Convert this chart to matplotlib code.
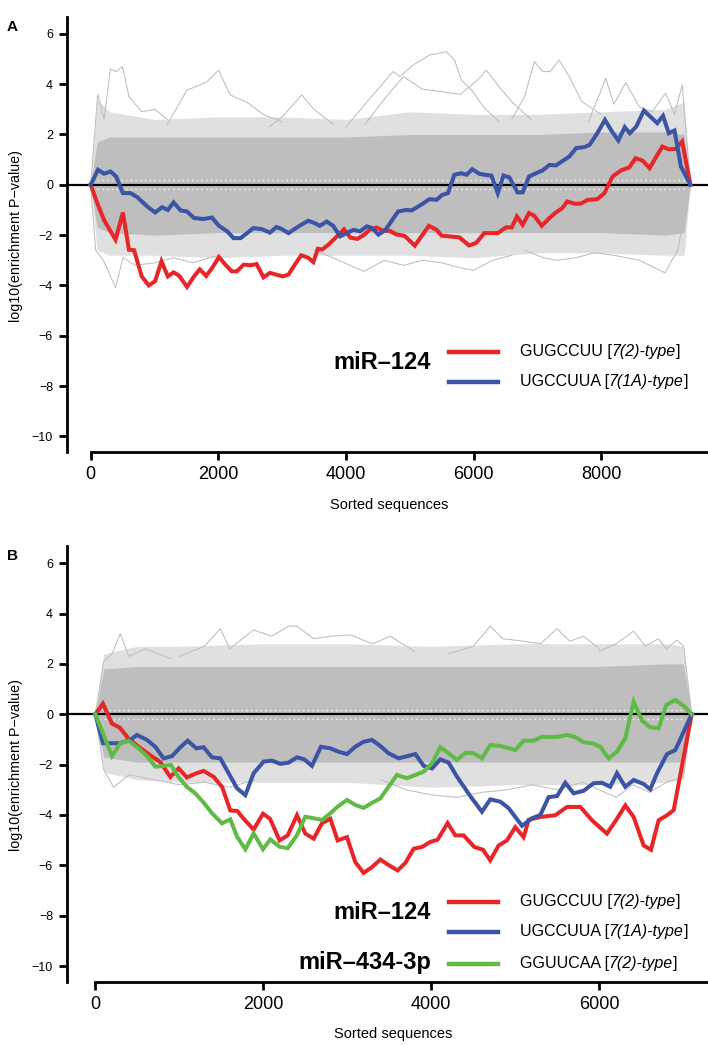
import matplotlib
matplotlib.use("Agg")
import matplotlib.pyplot as plt
from matplotlib.offsetbox import TextArea, HPacker, AnnotationBbox

plt.rcParams["font.family"] = ["Liberation Sans", "DejaVu Sans"]

RED = "#E8262A"; BLUE = "#3B54A5"; GREEN = "#5FBB46"
GRAY = "#BEBEBE"; LIGHT = "#E0E0E0"

# ---------------- panel A data (miR-124, ~9400 sorted sequences)
a_red_x = [0, 104, 208, 312, 390, 505, 600, 680, 800, 910, 1010, 1110, 1210, 1300, 1390, 1510, 1620, 1710,
           1810, 1900, 2010, 2110, 2210, 2290, 2400, 2500, 2600, 2710, 2810, 2910, 3010, 3100, 3200, 3300,
           3410, 3490, 3560, 3630, 3730, 3840, 3970, 4070, 4180, 4280, 4380, 4480, 4590, 4690, 4790, 4920,
           5080, 5300, 5420, 5500, 5780, 5930, 6040, 6170, 6380, 6510, 6600, 6680, 6770, 6870, 6950, 7070,
           7190, 7290, 7390, 7470, 7580, 7680, 7790, 7940, 8050, 8180, 8310, 8440, 8540, 8650, 8760, 8850,
           8960, 9060, 9170, 9270, 9400]
a_red_y = [0, -0.73, -1.39, -1.85, -2.18, -1.1, -2.58, -2.6, -3.64, -4.0, -3.83, -3.04, -3.64, -3.48, -3.62,
           -4.06, -3.64, -3.36, -3.62, -3.32, -2.87, -3.17, -3.44, -3.44, -3.17, -3.2, -3.15, -3.68, -3.5,
           -3.57, -3.64, -3.57, -3.17, -2.8, -2.9, -3.07, -2.54, -2.57, -2.37, -2.1, -1.77, -2.1, -2.15, -2.0,
           -1.77, -1.7, -1.83, -1.83, -1.97, -2.03, -2.42, -1.63, -1.79, -2.02, -2.09, -2.41, -2.31, -1.92,
           -1.92, -1.69, -1.69, -1.26, -1.59, -1.12, -1.23, -1.63, -1.32, -1.1, -0.93, -0.66, -0.75, -0.75,
           -0.6, -0.57, -0.33, 0.33, 0.57, 0.69, 1.06, 0.96, 0.66, 1.06, 1.52, 1.41, 1.43, 1.72, 0]
a_blue_x = [0, 115, 210, 310, 400, 505, 625, 730, 885, 1010, 1120, 1210, 1300, 1410, 1510, 1620, 1770, 1900,
            2010, 2140, 2240, 2350, 2450, 2550, 2680, 2810, 2910, 2990, 3100, 3200, 3300, 3410, 3510, 3590,
            3700, 3800, 3910, 4010, 4120, 4220, 4330, 4410, 4510, 4620, 4720, 4820, 4950, 5030, 5180, 5310,
            5420, 5510, 5600, 5700, 5810, 5890, 5980, 6090, 6170, 6280, 6380, 6470, 6560, 6690, 6770, 6870,
            6980, 7080, 7190, 7290, 7400, 7500, 7610, 7740, 7820, 7940, 8060, 8170, 8270, 8370, 8450, 8550,
            8670, 8780, 8880, 8970, 9060, 9150, 9250, 9400]
a_blue_y = [0, 0.6, 0.44, 0.53, 0.33, -0.33, -0.33, -0.49, -0.86, -1.1, -0.89, -1.0, -0.7, -1.02, -1.06,
            -1.32, -1.36, -1.3, -1.63, -1.85, -2.12, -2.12, -1.92, -1.72, -1.76, -1.9, -1.68, -1.75, -1.92,
            -1.75, -1.59, -1.43, -1.52, -1.63, -1.46, -1.63, -2.05, -1.92, -1.79, -1.85, -1.65, -1.72, -1.98,
            -1.79, -1.42, -1.06, -1.0, -1.02, -0.79, -0.57, -0.6, -0.4, -0.33, 0.4, 0.46, 0.4, 0.62, 0.44, 0.4,
            0.37, -0.33, 0.37, 0.3, -0.3, -0.3, 0.33, 0.46, 0.57, 0.79, 0.77, 0.95, 1.12, 1.46, 1.5, 1.59, 2.05,
            2.58, 2.12, 1.76, 2.29, 2.05, 2.31, 2.95, 2.69, 2.45, 2.74, 2.05, 2.16, 0.73, 0]

# background motifs: dense core, sparse fringe and a few outlying traces
a_env_x = [0, 100, 300, 1000, 2000, 3000, 4000, 5000, 6000, 7000, 8000, 9000, 9300, 9400]
a_core_hi = [0, 1.7, 1.9, 1.9, 1.9, 1.9, 1.9, 2.0, 2.0, 2.0, 2.1, 2.1, 2.0, 0]
a_core_lo = [0, -1.7, -1.9, -2.0, -1.9, -1.9, -1.9, -1.9, -1.9, -1.9, -1.9, -2.0, -1.9, 0]
a_fringe_hi = [0, 3.4, 2.9, 2.6, 2.7, 2.7, 2.6, 2.9, 2.8, 2.8, 2.9, 3.0, 3.3, 0]
a_fringe_lo = [0, -2.6, -2.8, -2.8, -2.9, -2.8, -2.8, -2.8, -2.9, -2.7, -2.7, -2.8, -2.8, 0]
a_outliers = [
    ([0, 110, 210, 310, 400, 500, 600, 800, 1000, 1200], [0, 3.6, 2.6, 4.6, 4.5, 4.7, 3.5, 2.9, 3.0, 2.6]),
    ([1200, 1510, 1650, 1823, 2005, 2187, 2469, 2700, 3000], [2.4, 3.77, 3.9, 4.1, 4.56, 3.57, 3.25, 2.8, 2.5]),
    ([2800, 3000, 3307, 3500, 3800], [2.3, 2.7, 3.57, 3.0, 2.4]),
    ([4000, 4432, 4740, 4844, 5052, 5312, 5573, 5703, 5807, 5990, 6146, 6400],
     [2.3, 3.6, 4.5, 4.3, 4.76, 5.16, 5.29, 4.96, 4.17, 3.71, 3.12, 2.5]),
    ([4300, 4600, 4900, 5200, 5500, 5800, 6094, 6198, 6400, 6600, 6900],
     [2.4, 3.4, 4.3, 3.8, 3.7, 3.6, 4.24, 4.56, 3.9, 3.3, 2.6]),
    ([6600, 6800, 6953, 7083, 7200, 7344, 7500, 7700, 8000], [2.6, 3.5, 4.9, 4.5, 4.5, 4.96, 4.3, 3.3, 2.8]),
    ([7800, 8073, 8200, 8385, 8600, 8800, 9010, 9150, 9271, 9400], [2.5, 4.23, 3.2, 4.06, 3.1, 2.9, 3.64, 2.8, 3.97, 0]),
    ([0, 78, 200, 390, 505, 700, 1000, 1300, 1600, 2000], [0, -2.6, -3.0, -4.1, -2.9, -3.2, -3.1, -2.9, -3.1, -2.8]),
    ([3500, 3800, 4281, 4600, 4900, 5200, 5500, 5800, 6000, 6300, 6600],
     [-2.6, -2.9, -3.44, -3.0, -3.2, -3.0, -3.1, -3.3, -3.4, -3.0, -2.8]),
    ([6800, 7100, 7300, 7600, 7900, 8200, 8600, 9000, 9200, 9400], [-2.6, -2.9, -3.0, -2.9, -2.7, -2.8, -3.0, -3.5, -2.6, 0]),
]

# ---------------- panel B data (~7100 sorted sequences)
b_red_x = [0, 91, 198, 290, 397, 516, 655, 774, 893, 992, 1090, 1190, 1290, 1410, 1510, 1607, 1690, 1766,
           1885, 1996, 2080, 2194, 2290, 2401, 2500, 2600, 2700, 2798, 2885, 2996, 3095, 3194, 3294, 3393,
           3492, 3599, 3690, 3790, 3889, 3988, 4075, 4194, 4286, 4385, 4512, 4615, 4702, 4802, 4901, 5000,
           5099, 5159, 5298, 5476, 5615, 5774, 5913, 6091, 6210, 6310, 6409, 6528, 6615, 6706, 6806, 6885, 7100]
b_red_y = [0, 0.42, -0.37, -0.53, -0.97, -1.29, -1.63, -1.9, -2.49, -2.15, -2.51, -2.36, -2.25, -2.49, -2.89,
           -3.82, -3.84, -4.15, -4.58, -3.95, -4.15, -5.01, -4.81, -4.01, -4.74, -4.94, -4.32, -4.15, -5.01,
           -4.88, -5.87, -6.3, -6.07, -5.77, -5.99, -6.2, -5.91, -5.34, -5.27, -5.07, -4.98, -4.32, -4.81,
           -4.81, -5.27, -5.38, -5.8, -5.21, -5.01, -4.48, -4.88, -4.19, -4.08, -4.01, -3.68, -3.68, -4.21,
           -4.74, -4.15, -3.62, -4.08, -5.21, -5.38, -4.21, -4.01, -3.81, 0]
b_blue_x = [0, 91, 290, 417, 496, 615, 714, 813, 913, 1012, 1099, 1202, 1290, 1389, 1488, 1587, 1687, 1786,
            1885, 2004, 2103, 2202, 2302, 2401, 2488, 2579, 2686, 2797, 2897, 2996, 3095, 3194, 3294, 3393,
            3492, 3611, 3810, 3909, 4008, 4107, 4206, 4306, 4464, 4603, 4702, 4821, 4921, 5080, 5198, 5298,
            5397, 5496, 5595, 5694, 5813, 5932, 6030, 6130, 6210, 6309, 6409, 6528, 6607, 6687, 6806, 6905, 7100]
b_blue_y = [0, -1.15, -1.15, -1.02, -0.82, -1.02, -1.29, -1.75, -1.66, -1.31, -1.05, -1.35, -1.31, -1.71,
            -1.75, -2.34, -2.94, -3.21, -2.34, -1.88, -1.84, -1.97, -1.92, -1.71, -1.79, -2.05, -1.29, -1.35,
            -1.49, -1.58, -1.29, -1.09, -1.02, -1.26, -1.55, -1.75, -1.58, -2.05, -2.15, -1.79, -1.92, -2.48,
            -3.25, -3.87, -3.38, -3.47, -3.73, -4.43, -4.13, -4.0, -3.29, -3.25, -2.72, -3.14, -3.04, -2.74,
            -2.72, -2.88, -2.34, -2.88, -2.61, -2.77, -2.98, -2.34, -1.58, -1.42, 0]
b_green_x = [0, 91, 198, 298, 397, 516, 615, 714, 813, 900, 992, 1090, 1190, 1290, 1389, 1508, 1607, 1687,
             1786, 1885, 1996, 2083, 2194, 2290, 2401, 2500, 2600, 2700, 2798, 2885, 2996, 3095, 3194, 3294,
             3393, 3591, 3710, 3909, 4008, 4107, 4206, 4306, 4405, 4504, 4603, 4702, 4821, 5000, 5099, 5218,
             5318, 5417, 5516, 5615, 5714, 5813, 5913, 6012, 6111, 6210, 6310, 6409, 6508, 6607, 6706, 6797,
             6905, 7004, 7100]
b_green_y = [0, -0.75, -1.66, -1.15, -1.05, -1.35, -1.66, -2.08, -2.05, -2.01, -2.5, -2.88, -3.14, -3.51,
             -3.93, -4.33, -4.17, -4.86, -5.36, -4.73, -5.36, -4.97, -5.26, -5.32, -4.8, -4.07, -4.13, -4.2,
             -3.93, -3.67, -3.4, -3.6, -3.72, -3.52, -3.34, -2.41, -2.54, -2.28, -1.95, -1.31, -1.55, -1.82,
             -1.53, -1.55, -1.75, -1.22, -1.26, -1.42, -1.05, -1.05, -0.89, -0.91, -0.89, -0.82, -0.91, -1.11,
             -1.15, -1.29, -1.75, -1.49, -0.95, 0.5, -0.25, -0.52, -0.56, 0.37, 0.57, 0.33, 0]

b_env_x = [0, 100, 500, 1000, 2000, 3000, 4000, 5000, 6000, 6800, 7000, 7100]
b_core_hi = [0, 1.8, 1.9, 1.9, 1.9, 1.9, 1.9, 1.9, 1.9, 2.0, 2.0, 0]
b_core_lo = [0, -1.7, -1.9, -1.9, -1.9, -1.9, -1.9, -1.9, -1.9, -1.9, -1.9, 0]
b_fringe_hi = [0, 2.4, 2.7, 2.7, 2.8, 2.8, 2.7, 2.8, 2.8, 2.8, 2.7, 0]
b_fringe_lo = [0, -2.3, -2.6, -2.7, -2.7, -2.7, -2.9, -2.8, -2.8, -2.7, -2.6, 0]
b_outliers = [
    ([0, 100, 200, 298, 400, 600, 900], [0, 2.1, 2.4, 3.2, 2.3, 2.6, 2.2]),
    ([1000, 1300, 1488, 1600, 1885, 2100, 2301, 2401, 2600, 2800, 3035, 3300, 3512, 3800],
     [2.3, 2.7, 3.4, 2.6, 3.35, 3.1, 3.5, 3.5, 3.0, 3.1, 3.15, 2.8, 3.1, 2.5]),
    ([4200, 4500, 4702, 4850, 5100, 5300, 5496, 5650, 5813, 6000], [2.4, 2.7, 3.5, 3.0, 2.9, 2.8, 3.4, 2.9, 3.1, 2.6]),
    ([6000, 6200, 6409, 6550, 6700, 6800, 6925, 7004, 7100], [2.5, 2.8, 3.3, 2.7, 3.0, 2.6, 2.95, 2.7, 0]),
    ([0, 100, 218, 400, 700, 1000, 1300, 1600, 1900], [0, -2.2, -2.9, -2.4, -2.6, -2.8, -2.7, -2.9, -2.6]),
    ([3400, 3700, 4000, 4300, 4600, 4900, 5200, 5500, 5800], [-2.6, -3.0, -3.2, -3.3, -3.1, -3.0, -2.8, -3.0, -2.7]),
    ([5800, 6000, 6200, 6400, 6600, 6800, 7000, 7100], [-2.7, -3.0, -3.3, -2.8, -3.1, -2.7, -2.5, 0]),
]

a_xticks = [0, 2000, 4000, 6000, 8000]
b_xticks = [0, 2000, 4000, 6000]
yticks = [6, 4, 2, 0, -2, -4, -6, -8, -10]

# legend labels: (text, italic?) pieces
LBL_RED = [("GUGCCUU [", False), ("7(2)-type", True), ("]", False)]
LBL_BLUE = [("UGCCUUA [", False), ("7(1A)-type", True), ("]", False)]
LBL_GREEN = [("GGUUCAA [", False), ("7(2)-type", True), ("]", False)]


def panel(ax, xlim, xticks, env, outliers, series):
    ex, chi, clo, fhi, flo = env
    ax.fill_between(ex, flo, fhi, color=LIGHT, lw=0, zorder=1)
    for ox, oy in outliers:
        ax.plot(ox, oy, color=GRAY, lw=0.75, zorder=2)
    ax.fill_between(ex, clo, chi, color=GRAY, lw=0, zorder=3)
    # faint white gaps either side of zero (discrete p-value steps)
    for yy in (0.18, -0.18):
        ax.plot([ex[1], ex[-2]], [yy, yy], color="white", lw=1.0, ls=(0, (1.2, 2.2)), alpha=0.8, zorder=4)
    ax.axhline(0, color="black", lw=1.6, zorder=5)
    for sx, sy, c in series:
        ax.plot(sx, sy, color=c, lw=2.9, solid_joinstyle="miter", zorder=6)
    ax.set_xlim(*xlim); ax.set_ylim(-10.62, 6.67)
    for s in ("top", "right"):
        ax.spines[s].set_visible(False)
    for s in ("left", "bottom"):
        ax.spines[s].set_linewidth(2.0)
    ax.spines["bottom"].set_bounds(0, xlim[1])
    ax.set_xticks(xticks); ax.set_yticks(yticks)
    ax.tick_params(axis="x", length=6, width=2.0, labelsize=13, pad=4)
    ax.tick_params(axis="y", length=6, width=2.0, labelsize=9, pad=4)


def mixed_label(ax, x, y, parts):
    boxes = [TextArea(t, textprops=dict(fontsize=11.5, fontstyle="italic" if it else "normal"))
             for t, it in parts]
    pk = HPacker(children=boxes, align="baseline", pad=0, sep=0)
    ab = AnnotationBbox(pk, (x, y), xycoords=ax.transAxes, box_alignment=(0, 0.5),
                        frameon=False, pad=0, zorder=7)
    ax.add_artist(ab)


def legend(ax, rows, groups):
    for y, c, parts in rows:
        ax.plot([0.596, 0.673], [y, y], color=c, lw=3.2, transform=ax.transAxes, clip_on=False, zorder=7)
        mixed_label(ax, 0.706, y, parts)
    for y, g in groups:
        ax.text(0.568, y, g, transform=ax.transAxes, ha="right", va="center", fontsize=17,
                fontweight="bold", zorder=7)


fig = plt.figure(figsize=(7.08, 10.45), dpi=100)
W, H = 708.0, 1045.0

axA = fig.add_axes([67 / W, (H - 452) / H, 641 / W, 435 / H])
panel(axA, (-371, 9675), a_xticks,
      (a_env_x, a_core_hi, a_core_lo, a_fringe_hi, a_fringe_lo), a_outliers,
      [(a_red_x, a_red_y, RED), (a_blue_x, a_blue_y, BLUE)])
legend(axA, [(0.231, RED, LBL_RED), (0.162, BLUE, LBL_BLUE)], [(0.205, "miR–124")])

axB = fig.add_axes([67 / W, (H - 981.7) / H, 641 / W, 435.4 / H])
panel(axB, (-337, 7294), b_xticks,
      (b_env_x, b_core_hi, b_core_lo, b_fringe_hi, b_fringe_lo), b_outliers,
      [(b_red_x, b_red_y, RED), (b_blue_x, b_blue_y, BLUE), (b_green_x, b_green_y, GREEN)])
legend(axB, [(0.184, RED, LBL_RED), (0.115, BLUE, LBL_BLUE), (0.041, GREEN, LBL_GREEN)],
       [(0.158, "miR–124"), (0.043, "miR–434-3p")])

for yc, xc, letter in ((236, 389, "A"), (765.3, 393, "B")):
    fig.text(16 / W, (H - yc) / H, "log10(enrichment P−value)", rotation=90, ha="center", va="center", fontsize=10.3)
    off = 0 if letter == "A" else 529.3
    fig.text(xc / W, (H - 505 - off) / H, "Sorted sequences", ha="center", va="center", fontsize=10.5)
    fig.text(12 / W, (H - 27 - off) / H, letter, ha="center", va="center", fontsize=11, fontweight="bold")

fig.savefig("out.png", dpi=100)
